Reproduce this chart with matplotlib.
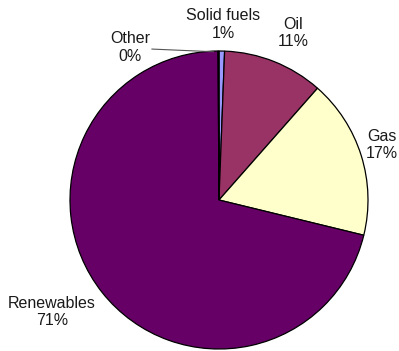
import matplotlib
matplotlib.use('Agg')
import matplotlib.pyplot as plt
import numpy as np

plt.rcParams['font.family'] = ['Liberation Sans', 'DejaVu Sans']

# energy mix (shares, clockwise from 12 o'clock)
labels = ['Solid fuels', 'Oil', 'Gas', 'Renewables', 'Other']
shares = [0.6, 10.9, 17.3, 71.1, 0.1]
pct_text = ['1%', '11%', '17%', '71%', '0%']
colors = ['#9999FF', '#993366', '#FFFFCC', '#660066', '#CCFFFF']

# label placement in data units (text centre)
label_pos = [(0.027, 1.178), (0.497, 1.121), (1.094, 0.369), (-1.121, -0.752), (-0.597, 1.023)]

fig = plt.figure(figsize=(3.99, 3.51), dpi=100)
ax = fig.add_axes([0, 0, 1, 1])

wedges, _ = ax.pie(shares, colors=colors, startangle=90, counterclock=False,
                   wedgeprops=dict(edgecolor='black', linewidth=0.9))

for i, w in enumerate(wedges):
    x, y = label_pos[i]
    ax.text(x, y, labels[i] + '\n' + pct_text[i], ha='center', va='center',
            fontsize=11.5, color='#1a1a1a', linespacing=1.2)

# leader line for the tiny "Other" slice
w = wedges[4]
ang = np.deg2rad((w.theta1 + w.theta2) / 2)
ax.plot([-0.45, np.cos(ang) - 0.035], [1.013, np.sin(ang) - 0.005], color='#555555', lw=0.8)

ax.set_xlim(-219 / 149, (399 - 219) / 149)
ax.set_ylim((200 - 351) / 149, 200 / 149)
ax.set_aspect('auto')
ax.axis('off')

fig.savefig('out.png', dpi=100)
